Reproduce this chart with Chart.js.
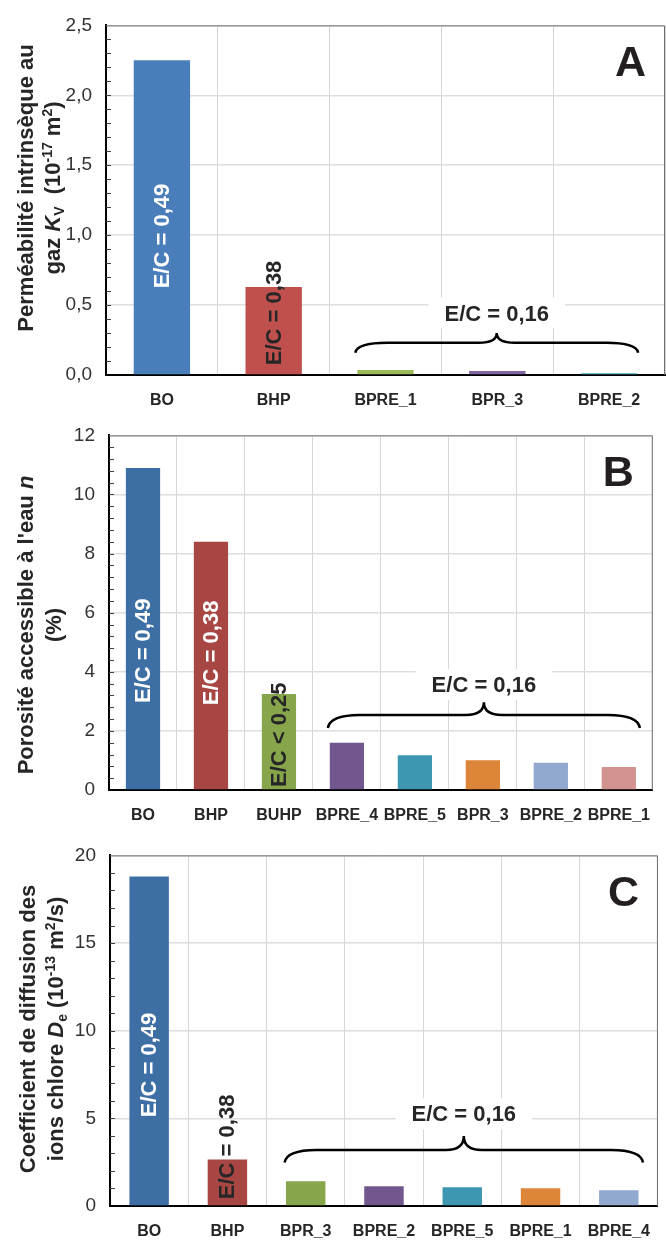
<!DOCTYPE html>
<html lang="fr">
<head>
<meta charset="utf-8">
<title>Perméabilité, porosité et diffusion des chlorures</title>
<script src="https://cdn.jsdelivr.net/npm/chart.js@4.4.1/dist/chart.umd.min.js"></script>
<style>
	body { margin: 0; background: #fff; }
	canvas { display: block; }
</style>
</head>
<body>
<canvas id="chartA" width="666" height="410"></canvas>
<canvas id="chartB" width="666" height="420"></canvas>
<canvas id="chartC" width="666" height="411"></canvas>
<script>
// === Data ===

const labelsA = ['BO', 'BHP', 'BPRE_1', 'BPR_3', 'BPRE_2'];
const permeabilityA = [2.25, 0.63, 0.035, 0.028, 0.012];
const yTicksA = [0, 0.5, 1.0, 1.5, 2.0, 2.5];

const labelsB = ['BO', 'BHP', 'BUHP', 'BPRE_4', 'BPRE_5', 'BPR_3', 'BPRE_2', 'BPRE_1'];
const porosityB = [10.9, 8.4, 3.25, 1.6, 1.18, 1.01, 0.92, 0.78];
const yTicksB = [0, 2, 4, 6, 8, 10, 12];

const labelsC = ['BO', 'BHP', 'BPR_3', 'BPRE_2', 'BPRE_5', 'BPRE_1', 'BPRE_4'];
const diffusionC = [18.8, 2.65, 1.41, 1.13, 1.07, 1.01, 0.9];
const yTicksC = [0, 5, 10, 15, 20];

// bar colours
const colorsA = ['#4a7ebb', '#c0504d', '#9bbb59', '#8064a2', '#4bacc6'];
const colorsB = ['#3d6fa5', '#a84644', '#87a54a', '#72578f', '#3e97b0', '#dd8539', '#92a9cf', '#d29290'];
const colorsC = ['#3d6fa5', '#a84644', '#87a54a', '#72578f', '#3e97b0', '#dd8539', '#92a9cf'];

const FONT = '"Liberation Sans", Arial, sans-serif';
Chart.defaults.font.family = FONT;
Chart.defaults.color = '#333';


// === Drawing helpers ===

function drawRichLine(ctx, segments, size) {
	const parts = segments.map(s => {
		const small = s.sup || s.sub;
		const px = small ? Math.round(size * 0.62) : size;
		const font = (s.i ? 'italic ' : '') + 'bold ' + px + 'px ' + FONT;
		ctx.font = font;
		return {
			text: s.t,
			font: font,
			width: ctx.measureText(s.t).width,
			dy: s.sup ? -size * 0.36 : (s.sub ? size * 0.2 : 0)
		};
	});
	const total = parts.reduce((sum, p) => sum + p.width, 0);
	let cx = -total / 2;
	ctx.textAlign = 'left';
	ctx.textBaseline = 'alphabetic';
	parts.forEach(p => {
		ctx.font = p.font;
		ctx.fillText(p.text, cx, p.dy + size * 0.36);
		cx += p.width;
	});
}

function drawBrace(ctx, x0, x1, yEnd, yFlat, yPeak) {
	const xm = (x0 + x1) / 2;
	const r = 32, rm = 18;
	ctx.beginPath();
	ctx.moveTo(x0, yEnd);
	ctx.quadraticCurveTo(x0 + 2, yFlat, x0 + r, yFlat);
	ctx.lineTo(xm - rm, yFlat);
	ctx.quadraticCurveTo(xm, yFlat, xm, yPeak);
	ctx.quadraticCurveTo(xm, yFlat, xm + rm, yFlat);
	ctx.lineTo(x1 - r, yFlat);
	ctx.quadraticCurveTo(x1 - 2, yFlat, x1, yEnd);
	ctx.stroke();
}

function panelPlugin(panel) {
	return {
		id: 'panel' + panel.letter,
		afterDatasetsDraw(chart) {
			const ctx = chart.ctx;
			const xs = chart.scales.x;
			const ys = chart.scales.y;
			const area = chart.chartArea;
			ctx.save();

			// top and right frame
			ctx.strokeStyle = '#6e6e6e';
			ctx.lineWidth = 1;
			ctx.beginPath();
			ctx.moveTo(area.left, area.top + 0.5);
			ctx.lineTo(area.right - 0.5, area.top + 0.5);
			ctx.lineTo(area.right - 0.5, area.bottom);
			ctx.stroke();

			// minor ticks inside the left axis
			const ticks = panel.ticks;
			const min = ticks[0], max = ticks[ticks.length - 1];
			const n = Math.round((max - min) / panel.minorStep);
			ctx.strokeStyle = '#404040';
			for (let i = 1; i < n; i++) {
				const py = Math.round(ys.getPixelForValue(min + i * panel.minorStep)) + 0.5;
				ctx.beginPath();
				ctx.moveTo(area.left, py);
				ctx.lineTo(area.left + 5, py);
				ctx.stroke();
			}

			// rotated labels on the bars
			ctx.font = 'bold 22px ' + FONT;
			ctx.textAlign = 'left';
			ctx.textBaseline = 'middle';
			panel.barLabels.forEach(b => {
				ctx.save();
				ctx.translate(xs.getPixelForValue(b.index), ys.getPixelForValue(b.from));
				ctx.rotate(-Math.PI / 2);
				ctx.fillStyle = b.color;
				ctx.fillText(b.text, 0, 1);
				ctx.restore();
			});

			// brace and its label
			const br = panel.brace;
			const x0 = xs.getPixelForValue(br.from);
			const x1 = xs.getPixelForValue(br.to);
			ctx.strokeStyle = '#000';
			ctx.lineWidth = 2.5;
			drawBrace(ctx, x0, x1, ys.getPixelForValue(br.yEnd), ys.getPixelForValue(br.yFlat), ys.getPixelForValue(br.yPeak));
			const lx = (x0 + x1) / 2;
			const ly = ys.getPixelForValue(br.labelY);
			ctx.font = 'bold 22px ' + FONT;
			const w = ctx.measureText(br.text).width;
			ctx.fillStyle = '#fff';
			ctx.fillRect(lx - w / 2 - 16, ly - 16, w + 32, 31);
			ctx.fillStyle = '#262626';
			ctx.textAlign = 'center';
			ctx.textBaseline = 'middle';
			ctx.fillText(br.text, lx, ly + 1);

			// panel letter
			ctx.font = 'bold 43px ' + FONT;
			ctx.textAlign = 'right';
			ctx.textBaseline = 'alphabetic';
			ctx.fillStyle = '#231f20';
			ctx.fillText(panel.letter, area.right - 19, area.top + 51);

			// y axis title
			ctx.fillStyle = '#262626';
			panel.title.forEach((line, k) => {
				ctx.save();
				ctx.translate(panel.titleX[k], panel.titleY);
				ctx.rotate(-Math.PI / 2);
				drawRichLine(ctx, line, 22);
				ctx.restore();
			});

			ctx.restore();
		}
	};
}


// === Chart factory ===

function createPanelChart(canvas, labels, values, colors, panel) {
	const ticks = panel.ticks;
	return new Chart(canvas, {
		type: 'bar',
		data: {
			labels: labels,
			datasets: [{
				data: values,
				backgroundColor: colors,
				barPercentage: 0.84,
				categoryPercentage: 0.6
			}]
		},
		options: {
			responsive: false,
			animation: false,
			layout: { padding: { top: panel.top, right: 1, left: 0, bottom: 0 } },
			plugins: { legend: { display: false }, tooltip: { enabled: false } },
			scales: {
				x: {
					grid: { color: '#d6d6d6', drawTicks: false },
					border: { color: '#000', width: 2 },
					ticks: {
						autoSkip: false,
						maxRotation: 0,
						padding: 16,
						color: '#262626',
						font: { size: 16, weight: 'bold' }
					},
					afterFit: axis => { axis.height = canvas.height - panel.bottom; }
				},
				y: {
					min: ticks[0],
					max: ticks[ticks.length - 1],
					afterBuildTicks: axis => { axis.ticks = ticks.map(v => ({ value: v })); },
					grid: { color: '#dedede', lineWidth: 1.5, drawTicks: false },
					border: { color: '#000', width: 2 },
					ticks: {
						padding: 14,
						color: '#333',
						font: { size: 19 },
						callback: v => v.toFixed(panel.decimals).replace('.', ',')
					},
					afterFit: axis => { axis.width = panel.left; }
				}
			}
		},
		plugins: [panelPlugin(panel)]
	});
}


// === Panels ===

createPanelChart(document.getElementById('chartA'), labelsA, permeabilityA, colorsA, {
	letter: 'A',
	ticks: yTicksA,
	decimals: 1,
	minorStep: 0.1,
	top: 20, bottom: 375, left: 106,
	title: [
		[{ t: 'Perméabilité intrinsèque au' }],
		[{ t: 'gaz ' }, { t: 'K', i: true }, { t: 'V', sub: true }, { t: '  (10' }, { t: '-17', sup: true }, { t: ' m' }, { t: '2', sup: true }, { t: ')' }]
	],
	titleX: [25, 52], titleY: 188,
	barLabels: [
		{ index: 0, from: 0.62, text: 'E/C = 0,49', color: '#fff' },
		{ index: 1, from: 0.07, text: 'E/C = 0,38', color: '#262626' }
	],
	brace: { from: 1.73, to: 4.26, yEnd: 0.16, yFlat: 0.23, yPeak: 0.30, labelY: 0.44, text: 'E/C = 0,16' }
});

createPanelChart(document.getElementById('chartB'), labelsB, porosityB, colorsB, {
	letter: 'B',
	ticks: yTicksB,
	decimals: 0,
	minorStep: 0.4,
	top: 25, bottom: 380, left: 109,
	title: [
		[{ t: 'Porosité accessible à l\'eau ' }, { t: 'n', i: true }],
		[{ t: '(%)' }]
	],
	titleX: [25, 53], titleY: 215,
	barLabels: [
		{ index: 0, from: 2.94, text: 'E/C = 0,49', color: '#fff' },
		{ index: 1, from: 2.87, text: 'E/C = 0,38', color: '#fff' },
		{ index: 2, from: 0.1, text: 'E/C < 0,25', color: '#262626' }
	],
	brace: { from: 2.72, to: 7.31, yEnd: 2.1, yFlat: 2.54, yPeak: 2.97, labelY: 3.55, text: 'E/C = 0,16' }
});

createPanelChart(document.getElementById('chartC'), labelsC, diffusionC, colorsC, {
	letter: 'C',
	ticks: yTicksC,
	decimals: 0,
	minorStep: 1,
	top: 21, bottom: 376, left: 110,
	title: [
		[{ t: 'Coefficient de diffusion des' }],
		[{ t: 'ions chlore ' }, { t: 'D', i: true }, { t: 'e', sub: true }, { t: ' (10' }, { t: '-13', sup: true }, { t: ' m' }, { t: '2', sup: true }, { t: '/s)' }]
	],
	titleX: [27, 55], titleY: 199,
	barLabels: [
		{ index: 0, from: 5.06, text: 'E/C = 0,49', color: '#fff' },
		{ index: 1, from: 0.39, text: 'E/C = 0,38', color: '#262626' }
	],
	brace: { from: 1.73, to: 6.31, yEnd: 2.48, yFlat: 3.2, yPeak: 4.0, labelY: 5.23, text: 'E/C = 0,16' }
});
</script>
</body>
</html>
